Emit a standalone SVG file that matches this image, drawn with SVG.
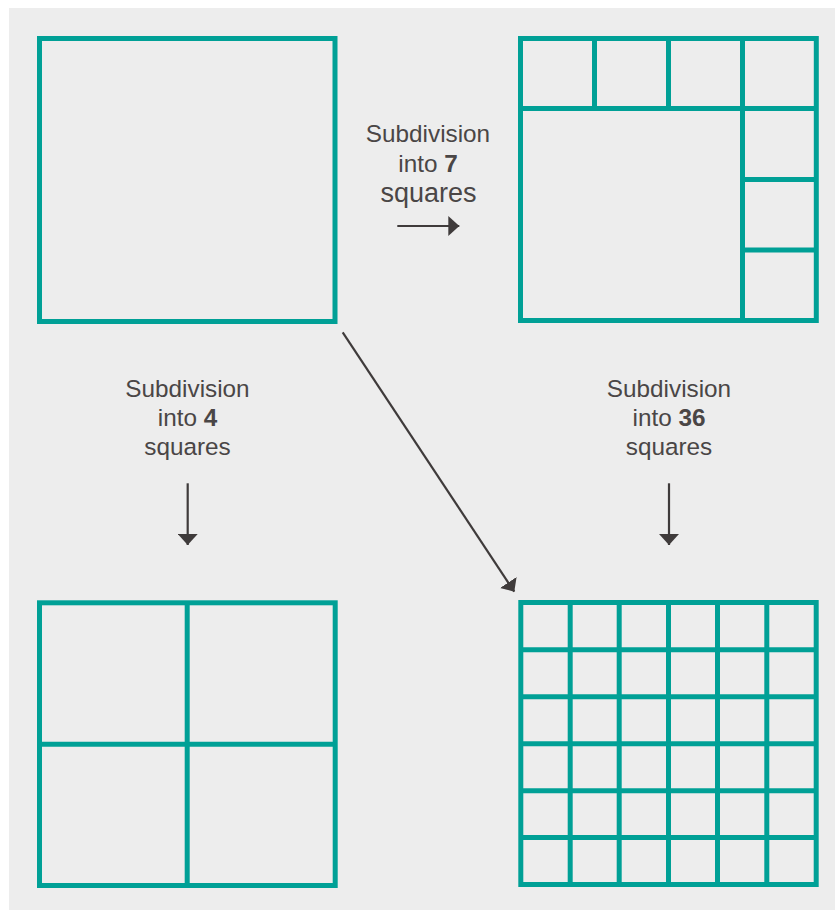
<svg xmlns="http://www.w3.org/2000/svg" width="835" height="910" viewBox="0 0 835 910">
<style>
.sq{fill:none;stroke:#00a096;stroke-width:5}
.ln{stroke:#00a096;stroke-width:5}
.lbl{font-family:"Liberation Sans",Arial,sans-serif;font-size:24.3px;fill:#4a4646;text-anchor:middle}
.big{font-size:27px}
.b{font-weight:bold}
.arr{stroke:#3f3b3b;stroke-width:2.2;fill:none}
</style>
<defs>
<marker id="ah" markerUnits="userSpaceOnUse" markerWidth="12" markerHeight="20" refX="11" refY="10" orient="auto">
<path d="M0,0 L11,10 L0,20 Z" fill="#3f3b3b"/>
</marker>
</defs>
<rect x="9" y="8" width="826" height="902" fill="#ededed"/>
<g id="square-1">
<rect class="sq" x="39.5" y="38.5" width="295.5" height="283"/>
</g>
<g id="square-7">
<rect class="sq" x="520.5" y="38.5" width="295.8" height="282"/>
<line class="ln" x1="520.5" y1="108.5" x2="816.3" y2="108.5"/>
<line class="ln" x1="742.5" y1="179.5" x2="816.3" y2="179.5"/>
<line class="ln" x1="742.5" y1="250" x2="816.3" y2="250"/>
<line class="ln" x1="594.5" y1="38.5" x2="594.5" y2="108.5"/>
<line class="ln" x1="668.5" y1="38.5" x2="668.5" y2="108.5"/>
<line class="ln" x1="742.5" y1="38.5" x2="742.5" y2="320.5"/>
</g>
<g id="square-4">
<rect class="sq" x="39.5" y="602.8" width="295.7" height="282.7"/>
<line class="ln" x1="187.2" y1="602.8" x2="187.2" y2="885.5"/>
<line class="ln" x1="39.5" y1="744.2" x2="335.2" y2="744.2"/>
</g>
<g id="square-36">
<rect class="sq" x="520.8" y="602.5" width="295.4" height="282"/>
<line class="ln" x1="570.2" y1="602.5" x2="570.2" y2="884.5"/>
<line class="ln" x1="619.2" y1="602.5" x2="619.2" y2="884.5"/>
<line class="ln" x1="668.5" y1="602.5" x2="668.5" y2="884.5"/>
<line class="ln" x1="717.5" y1="602.5" x2="717.5" y2="884.5"/>
<line class="ln" x1="766.8" y1="602.5" x2="766.8" y2="884.5"/>
<line class="ln" x1="520.8" y1="649.8" x2="816.2" y2="649.8"/>
<line class="ln" x1="520.8" y1="696.8" x2="816.2" y2="696.8"/>
<line class="ln" x1="520.8" y1="743.8" x2="816.2" y2="743.8"/>
<line class="ln" x1="520.8" y1="790.8" x2="816.2" y2="790.8"/>
<line class="ln" x1="520.8" y1="837.5" x2="816.2" y2="837.5"/>
</g>
<g id="label-7">
<text class="lbl" x="428" y="142">Subdivision</text>
<text class="lbl" x="428" y="171.5">into <tspan class="b">7</tspan></text>
<text class="lbl big" x="428.5" y="202">squares</text>
</g>
<g id="label-4">
<text class="lbl" x="187.5" y="396.7">Subdivision</text>
<text class="lbl" x="187.5" y="426">into <tspan class="b">4</tspan></text>
<text class="lbl" x="187.5" y="455">squares</text>
</g>
<g id="label-36">
<text class="lbl" x="669" y="396.7">Subdivision</text>
<text class="lbl" x="669" y="426">into <tspan class="b">36</tspan></text>
<text class="lbl" x="669" y="455">squares</text>
</g>
<g id="connectors">
<line class="arr" x1="397.3" y1="226" x2="459.3" y2="226" marker-end="url(#ah)"/>
<line class="arr" x1="187.7" y1="483.3" x2="187.7" y2="545" marker-end="url(#ah)"/>
<line class="arr" x1="669" y1="483.3" x2="669" y2="545" marker-end="url(#ah)"/>
<line class="arr" x1="342.7" y1="332.3" x2="514.3" y2="591.7" marker-end="url(#ah)"/>
</g>
</svg>
